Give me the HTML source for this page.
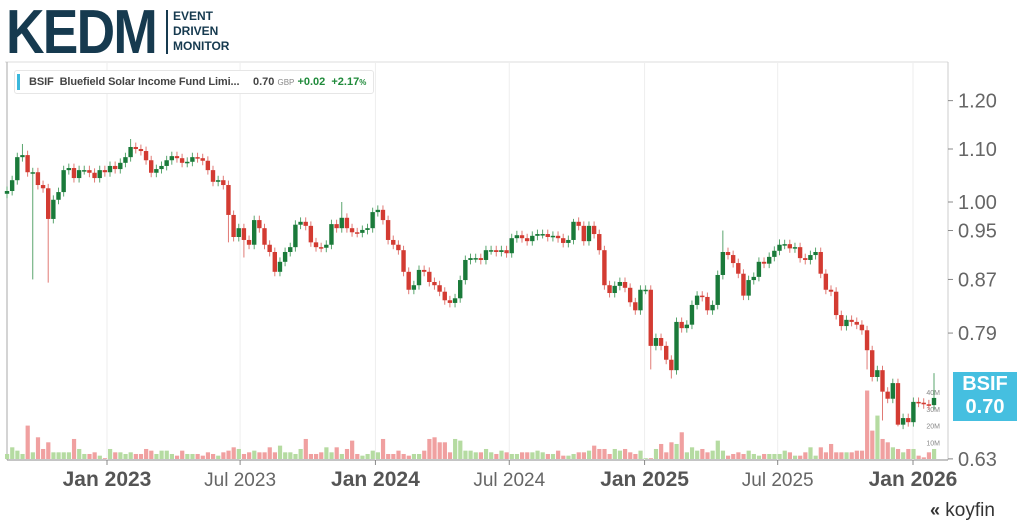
<!DOCTYPE html>
<html><head><meta charset="utf-8"><style>
body{margin:0;width:1024px;height:529px;background:#fff;overflow:hidden;font-family:"Liberation Sans",sans-serif;position:relative}
.logo{position:absolute;left:6px;top:-3px;font-size:62px;font-weight:bold;color:#163a4f;letter-spacing:-2px;transform:scaleX(0.86);transform-origin:left top;white-space:nowrap}
.sep{position:absolute;left:166px;top:10px;width:2px;height:44px;background:#163a4f}
.sub{position:absolute;left:173px;top:9px;font-size:12px;font-weight:bold;color:#163a4f;line-height:15px}
.legend{position:absolute;left:14px;top:70px;width:358px;height:22px;border:1px solid #e6e6e6;border-radius:3px;background:#fff;font-size:11px;color:#444;font-weight:bold;line-height:22px;white-space:nowrap}
.legend .bar{position:absolute;left:2px;top:3px;width:3px;height:16px;background:#3bb8dc}
.tag{position:absolute;left:953px;top:372px;width:64px;height:48px;background:#45bfe0;color:#fff;font-weight:bold;font-size:20px;text-align:center;line-height:23px;padding-top:1px}
.koy{position:absolute;left:930px;top:500px;font-size:19px;color:#333}
</style></head><body>
<div class="logo">KEDM</div>
<div class="sep"></div>
<div class="sub">EVENT<br>DRIVEN<br>MONITOR</div>
<svg id="ch" width="1024" height="529" style="position:absolute;left:0;top:0"></svg>
<div class="legend"><span class="bar"></span><span style="position:absolute;left:14px;letter-spacing:-0.1px">BSIF&nbsp; Bluefield Solar Income Fund Limi...</span><span style="position:absolute;left:238px">0.70 <span style="font-size:8px;color:#888;font-weight:normal">GBP</span> <span style="color:#1f8a3a">+0.02&nbsp; +2.17<span style="font-size:8px">%</span></span></span></div>
<div class="tag">BSIF<br>0.70</div>
<div class="koy"><span style="font-weight:bold;font-size:18px">«</span> koyfin</div>
<script>
const closes=[1.020,1.040,1.084,1.088,1.055,1.055,1.031,1.025,0.970,1.004,
1.018,1.059,1.063,1.044,1.059,1.059,1.054,1.044,1.059,1.055,
1.067,1.061,1.073,1.084,1.104,1.100,1.096,1.078,1.054,1.061,
1.067,1.078,1.086,1.082,1.073,1.075,1.084,1.082,1.077,1.059,
1.037,1.040,1.031,0.977,0.939,0.954,0.934,0.926,0.968,0.954,
0.926,0.914,0.882,0.898,0.914,0.922,0.960,0.965,0.958,0.930,
0.922,0.921,0.926,0.961,0.954,0.972,0.954,0.947,0.946,0.951,
0.954,0.982,0.986,0.968,0.934,0.926,0.917,0.882,0.854,0.861,
0.885,0.882,0.866,0.861,0.851,0.838,0.834,0.841,0.869,0.901,
0.904,0.904,0.901,0.917,0.917,0.914,0.917,0.912,0.937,0.942,
0.937,0.932,0.941,0.944,0.944,0.939,0.941,0.937,0.929,0.934,
0.965,0.958,0.932,0.958,0.944,0.917,0.861,0.849,0.860,0.866,
0.857,0.835,0.823,0.854,0.854,0.772,0.783,0.772,0.753,0.739,
0.806,0.797,0.802,0.831,0.845,0.843,0.823,0.831,0.877,0.914,
0.909,0.896,0.879,0.845,0.869,0.874,0.898,0.895,0.906,0.916,
0.926,0.927,0.920,0.922,0.904,0.901,0.909,0.914,0.879,0.854,
0.851,0.816,0.800,0.809,0.806,0.802,0.794,0.766,0.730,0.739,
0.711,0.702,0.722,0.670,0.678,0.673,0.698,0.697,0.695,0.694,0.703];
const volumes=[3,7,5,3,20,4,13,6,10,4,4,4,4,12,6,3,3,4,2,0.5,6,4,4,3,4,3,3,6,5,3,5,5,3,2,5,3,3,3,2,4,3,2,4,5,7,6,3,4,5,4,4,7,4,8,4,4,3,6,12,3,3,4,7,4,7,3,6,11,3,2,3,5,4,12,3,3,5,3,2,3,3,5,12,13,10,10,4,12,11,5,5,
4,4,6,4,3,5,4,3,3,4,4,4,5,4,3,3,5,2,2,3,4,4,5,8,6,6,3,6,5,6,4,3,5,0.5,0.5,6,9,4,10,9,16,4,7,5,6,4,5,11,5,2,3,4,3,5,3,2,3,3,3,3,5,4,2,2,4,7,2,7,4,9,4,4,4,4,5,5,41,17,26,12,10,7,6,4,6,6,2,1,4,6,3,5];
const wickLow={5:0.87,8:0.865,43:0.93,46:0.905,125:0.74,129:0.728,167:0.74,170:0.675,173:0.668};
const wickHigh={3:1.11,24:1.12,65:1.0,110:0.97,139:0.95,150:0.935,180:0.735};
const priceTicks=[1.20,1.10,1.00,0.95,0.87,0.79,0.63];
const volTicks=[10,20,30,40];
const timeLabels=["Jan 2023","Jul 2023","Jan 2024","Jul 2024","Jan 2025","Jul 2025","Jan 2026"];
const timeBold=[true,false,true,false,true,false,true];
const timeDays=[0,181,365,547,731,912,1096];

const NS="http://www.w3.org/2000/svg",svg=document.getElementById('ch');
function mk(t,a,p){const e=document.createElementNS(NS,t);for(const k in a)e.setAttribute(k,a[k]);(p||svg).appendChild(e);return e;}
const yP=p=>202-556*Math.log(p);
const xD=d=>107+d*0.7354;
const xI=i=>7+5.15*i;
const yV=v=>459-v*1.67;
let f=mk('line',{x1:5,y1:62,x2:948,y2:62,stroke:'#ddd'});
let l=mk('line',{x1:7,y1:62,x2:7,y2:460,stroke:'#aaa'});
let ax=mk('line',{x1:948,y1:62,x2:948,y2:460,stroke:'#ccc'});
let bx=mk('line',{x1:7,y1:460,x2:948,y2:460,stroke:'#888'});
timeLabels.forEach((t,i)=>{const x=xD(timeDays[i]);
 const g=mk('line',{x1:x,y1:62,x2:x,y2:460,stroke:'#eee'});
 const tk=mk('line',{x1:x,y1:460,x2:x,y2:465,stroke:'#888'});
 const tx=mk('text',{x:x,y:486,'text-anchor':'middle','font-size':timeBold[i]?21:19,'font-weight':timeBold[i]?'bold':'normal',fill:timeBold[i]?'#555':'#666'});tx.textContent=t;
 });
priceTicks.forEach(p=>{const y=yP(p);
 const tk=mk('line',{x1:948,y1:y,x2:953,y2:y,stroke:'#888'});
 const tx=mk('text',{x:958,y:y+7,'font-size':20,fill:'#666'});tx.textContent=p.toFixed(2);
 });
volTicks.forEach(v=>{const y=yV(v);
 const tx=mk('text',{x:940,y:y+3,'text-anchor':'end','font-size':7,fill:'#888'});tx.textContent=v+'M';
 });
closes.forEach((c,i)=>{const o=i?closes[i-1]:c*0.995;const up=c>=o;const x=xI(i);
 const vb=mk('rect',{x:x-2,y:yV(volumes[i]),width:4.2,height:459-yV(volumes[i]),fill:up?'#b5dba1':'#f0a0a0'});
 });
closes.forEach((c,i)=>{const o=i?closes[i-1]:c*0.995;const up=c>=o;const x=xI(i);const col=up?'#1a7a3a':'#d33b32';
 const hi=wickHigh[i]||Math.max(o,c)*1.008,lo=wickLow[i]||Math.min(o,c)*0.992;
 const w=mk('line',{x1:x,y1:yP(hi),x2:x,y2:yP(lo),stroke:up?'#5aa56e':'#e07a75','stroke-width':1});
 
 const t=Math.min(yP(o),yP(c)),h=Math.max(1.5,Math.abs(yP(o)-yP(c)));
 const b=mk('rect',{x:x-2.2,y:t,width:4.4,height:h,fill:col});
 });
</script>
</body></html>
